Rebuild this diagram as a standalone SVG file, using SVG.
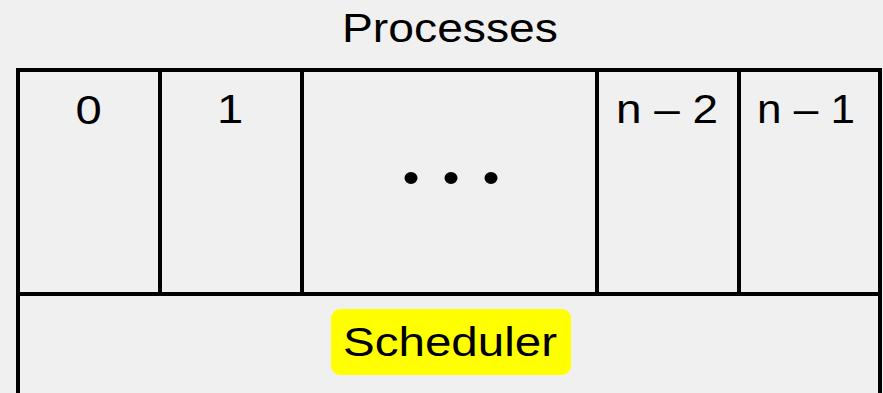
<svg xmlns="http://www.w3.org/2000/svg" width="883" height="393" viewBox="0 0 883 393">
  <style>
    .cell { fill: none; stroke: #000; stroke-width: 4; }
    .lbl { font-family: "Liberation Sans", Arial, sans-serif; font-size: 40px; fill: #000; }
    .mid { text-anchor: middle; }
    .dot { fill: #000; }
  </style>
  <rect width="883" height="393" fill="#f0f0f0"/>

  <text class="lbl" x="342" y="42" textLength="216" lengthAdjust="spacingAndGlyphs">Processes</text>

  <g id="p0">
    <rect class="cell" x="18" y="70" width="142" height="224"/>
    <text class="lbl mid" transform="translate(88.5,124) scale(1.18,1)">0</text>
  </g>
  <g id="p1">
    <rect class="cell" x="160" y="70" width="142" height="224"/>
    <text class="lbl mid" transform="translate(230,123) scale(1.18,1)">1</text>
  </g>
  <g id="pdots">
    <rect class="cell" x="302" y="70" width="295" height="224"/>
    <ellipse class="dot" cx="411" cy="178" rx="6.5" ry="6"/>
    <ellipse class="dot" cx="451" cy="178" rx="6.5" ry="6"/>
    <ellipse class="dot" cx="491" cy="178" rx="6.5" ry="6"/>
  </g>
  <g id="pn2">
    <rect class="cell" x="597" y="70" width="142" height="224"/>
    <text class="lbl" x="616" y="123" textLength="102" lengthAdjust="spacingAndGlyphs">n – 2</text>
  </g>
  <g id="pn1">
    <rect class="cell" x="739" y="70" width="141" height="224"/>
    <text class="lbl" x="757" y="123" textLength="98" lengthAdjust="spacingAndGlyphs">n – 1</text>
  </g>

  <g id="scheduler">
    <rect class="cell" x="18" y="294" width="862" height="120"/>
    <rect x="331" y="309" width="240" height="66" rx="9" fill="#ffff00"/>
    <text class="lbl" x="343" y="356" textLength="214" lengthAdjust="spacingAndGlyphs">Scheduler</text>
  </g>

  <g id="connectors"/>
</svg>
